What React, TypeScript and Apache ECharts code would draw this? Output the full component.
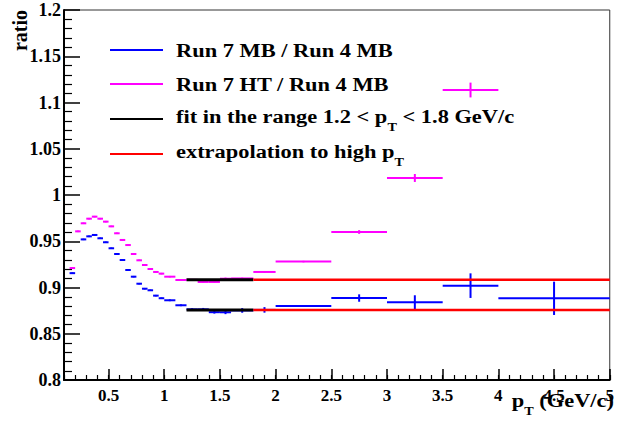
import React, { useEffect, useRef } from "react";
import * as echarts from "echarts";

// ---- data ----
const mbBinLow = [0.15, 0.25, 0.3, 0.35, 0.4, 0.45, 0.5, 0.55, 0.6, 0.65, 0.7, 0.75, 0.8, 0.85, 0.9, 0.95, 1.0, 1.1, 1.2, 1.3, 1.4, 1.5, 1.6, 1.8, 2.0, 2.5, 3.0, 3.5, 4.0];
const mbBinHigh = [0.2, 0.3, 0.35, 0.4, 0.45, 0.5, 0.55, 0.6, 0.65, 0.7, 0.75, 0.8, 0.85, 0.9, 0.95, 1.0, 1.1, 1.2, 1.3, 1.4, 1.5, 1.6, 1.8, 2.0, 2.5, 3.0, 3.5, 4.0, 5.0];
const mbRatio = [0.9155, 0.952, 0.9553, 0.9568, 0.9532, 0.9489, 0.9424, 0.9362, 0.9297, 0.9189, 0.9117, 0.9041, 0.8987, 0.897, 0.8912, 0.8884, 0.8862, 0.8808, 0.8764, 0.8764, 0.8733, 0.8732, 0.8752, 0.8758, 0.88, 0.8886, 0.884, 0.902, 0.8883];
const mbError = [0.0008, 0.0008, 0.0008, 0.0008, 0.0008, 0.0008, 0.0008, 0.0008, 0.0008, 0.0008, 0.0008, 0.0008, 0.0008, 0.0008, 0.0008, 0.0008, 0.001, 0.001, 0.0012, 0.0015, 0.0015, 0.002, 0.0025, 0.003, 0.001, 0.004, 0.0076, 0.0133, 0.018];

const htBinLow = [0.15, 0.2, 0.25, 0.3, 0.35, 0.4, 0.45, 0.5, 0.55, 0.6, 0.65, 0.7, 0.75, 0.8, 0.85, 0.9, 0.95, 1.0, 1.1, 1.2, 1.3, 1.4, 1.5, 1.6, 1.8, 2.0, 2.5, 3.0, 3.5];
const htBinHigh = [0.2, 0.25, 0.3, 0.35, 0.4, 0.45, 0.5, 0.55, 0.6, 0.65, 0.7, 0.75, 0.8, 0.85, 0.9, 0.95, 1.0, 1.1, 1.2, 1.3, 1.4, 1.5, 1.6, 1.8, 2.0, 2.5, 3.0, 3.5, 4.0];
const htRatio = [0.921, 0.9607, 0.9694, 0.9744, 0.9766, 0.9744, 0.9712, 0.9661, 0.9586, 0.9514, 0.9459, 0.9362, 0.9294, 0.9243, 0.92, 0.9168, 0.915, 0.9117, 0.9081, 0.9083, 0.906, 0.906, 0.9095, 0.9098, 0.9168, 0.928, 0.96, 1.0184, 1.1135];
const htError = [0.0008, 0.0008, 0.0008, 0.0008, 0.0008, 0.0008, 0.0008, 0.0008, 0.0008, 0.0008, 0.0008, 0.0008, 0.0008, 0.0008, 0.0008, 0.0008, 0.0008, 0.0008, 0.0008, 0.0008, 0.0008, 0.0008, 0.0012, 0.0008, 0.0008, 0.0008, 0.002, 0.0043, 0.008];

const fitRange = [1.2, 1.8];
const extrapolationRange = [1.8, 5.0];
const mbFitLevel = 0.8756;
const htFitLevel = 0.9083;

const xMajorTicks = [0.5, 1, 1.5, 2, 2.5, 3, 3.5, 4, 4.5, 5];

const FONT = "Liberation Serif";

function binData(lo: number[], hi: number[], v: number[], e: number[]) {
  return lo.map((l, i) => [l, hi[i], v[i], e[i]]);
}

function errorBarSeries(name: string, data: number[][], color: string) {
  return {
    type: "custom",
    name,
    xAxisIndex: 0,
    yAxisIndex: 0,
    data,
    encode: { x: [0, 1], y: 2 },
    renderItem: (_params: any, api: any) => {
      const lo = api.value(0);
      const hi = api.value(1);
      const y = api.value(2);
      const e = api.value(3);
      const mid = (lo + hi) / 2;
      const p1 = api.coord([lo, y]);
      const p2 = api.coord([hi, y]);
      const t = api.coord([mid, y + e]);
      const b = api.coord([mid, y - e]);
      return {
        type: "group",
        children: [
          { type: "line", shape: { x1: p1[0], y1: p1[1], x2: p2[0], y2: p2[1] }, style: { stroke: color, lineWidth: 2 } },
          { type: "line", shape: { x1: t[0], y1: t[1], x2: b[0], y2: b[1] }, style: { stroke: color, lineWidth: 2 } },
        ],
      };
    },
  };
}

function lineSeries(name: string, range: number[], level: number, color: string, width: number) {
  return {
    type: "line",
    name,
    data: [[range[0], level], [range[1], level]],
    symbol: "none",
    lineStyle: { color, width },
    silent: true,
  };
}

const richStyles = {
  m: { fontFamily: FONT, fontWeight: "bold", fontSize: 19, lineHeight: 20, verticalAlign: "top", color: "#000" },
  s: { fontFamily: FONT, fontWeight: "bold", fontSize: 12, verticalAlign: "top", padding: [14, 0, 0, 0], color: "#000" },
};

const legendEntries = [
  { text: "{m|Run 7 MB / Run 4 MB}", color: "#0000ff" },
  { text: "{m|Run 7 HT / Run 4 MB}", color: "#ff00ff" },
  { text: "{m|fit in the range 1.2 < p}{s|T}{m| < 1.8 GeV/c}", color: "#000000" },
  { text: "{m|extrapolation to high p}{s|T}", color: "#ff0000" },
];
const legendY = [50, 84, 119, 154];

export default function App() {
  const ref = useRef<HTMLDivElement>(null);
  useEffect(() => {
    if (!ref.current) return;
    const chart = echarts.init(ref.current, undefined, { renderer: "svg" });

    const graphics: any[] = [];
    legendEntries.forEach((en, i) => {
      graphics.push({
        type: "line",
        shape: { x1: 110, y1: legendY[i], x2: 163, y2: legendY[i] },
        style: { stroke: en.color, lineWidth: 2 },
      });
      graphics.push({
        type: "text",
        x: 176,
        y: legendY[i] + 1,
        scaleX: 1.18,
        style: {
          text: en.text,
          rich: richStyles,
          verticalAlign: "middle",
          align: "left",
        },
      });
    });
    graphics.push({
      type: "text",
      x: 614,
      y: 391,
      scaleX: 1.18,
      style: {
        text: "{m|p}{s|T}{m| (GeV/c)}",
        rich: richStyles,
        align: "right",
        verticalAlign: "top",
      },
    });
    graphics.push({
      type: "text",
      x: 20,
      y: 10,
      rotation: Math.PI / 2,
      style: {
        text: "ratio",
        fontFamily: FONT,
        fontWeight: "bold",
        fontSize: 20,
        fill: "#000",
        align: "right",
        verticalAlign: "middle",
      },
    });

    const axisLabelCommon = {
      fontFamily: FONT,
      fontWeight: "bold",
      color: "#000",
    };

    chart.setOption({
      animation: false,
      backgroundColor: "#fff",
      grid: {
        left: 64,
        top: 10,
        right: 5,
        bottom: 51,
        show: true,
        borderColor: "#333",
        borderWidth: 1,
        backgroundColor: "transparent",
      },
      xAxis: [
        {
          type: "value",
          min: 0.1,
          max: 5,
          position: "bottom",
          axisLine: { show: true, onZero: false, lineStyle: { color: "#000", width: 2 } },
          axisTick: { show: true, inside: true, length: 11, customValues: xMajorTicks, lineStyle: { color: "#000", width: 1.5 } },
          axisLabel: { ...axisLabelCommon, fontSize: 17, margin: 7, customValues: xMajorTicks },
          splitLine: { show: false },
        },
        {
          type: "value",
          min: 0.1,
          max: 5,
          interval: 0.1,
          position: "bottom",
          axisLine: { show: false, onZero: false },
          axisTick: { show: true, inside: true, length: 5, lineStyle: { color: "#000", width: 1.2 } },
          axisLabel: { show: false },
          splitLine: { show: false },
        },
      ],
      yAxis: {
        type: "value",
        min: 0.8,
        max: 1.2,
        interval: 0.05,
        axisLine: { show: true, onZero: false, lineStyle: { color: "#000", width: 2 } },
        axisTick: { show: true, inside: true, length: 16, lineStyle: { color: "#000", width: 1.5 } },
        minorTick: { show: true, splitNumber: 5, length: 8, lineStyle: { color: "#000", width: 1.2 } },
        axisLabel: { ...axisLabelCommon, fontSize: 18, margin: 3 },
        splitLine: { show: false },
      },
      series: [
        errorBarSeries("Run 7 MB / Run 4 MB", binData(mbBinLow, mbBinHigh, mbRatio, mbError), "#0000ff"),
        errorBarSeries("Run 7 HT / Run 4 MB", binData(htBinLow, htBinHigh, htRatio, htError), "#ff00ff"),
        lineSeries("fit MB", fitRange, mbFitLevel, "#000000", 3),
        lineSeries("fit HT", fitRange, htFitLevel, "#000000", 3),
        lineSeries("extrapolation MB", extrapolationRange, mbFitLevel, "#ff0000", 2.5),
        lineSeries("extrapolation HT", extrapolationRange, htFitLevel, "#ff0000", 2.5),
      ],
      graphic: graphics,
    });
    return () => chart.dispose();
  }, []);
  return <div ref={ref} style={{ width: 617, height: 431, position: "absolute", left: 0, top: 0 }} />;
}
